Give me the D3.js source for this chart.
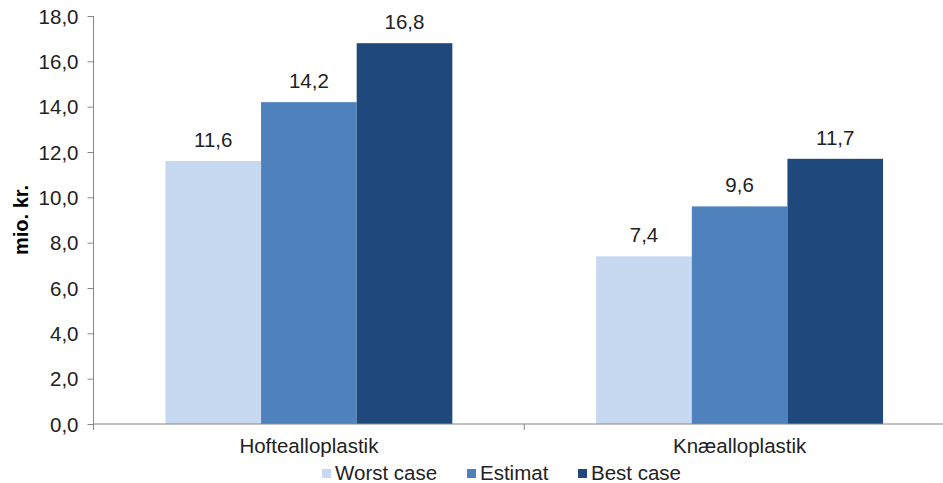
<!DOCTYPE html>
<html>
<head>
<meta charset="utf-8">
<script src="https://cdn.jsdelivr.net/npm/d3@7/dist/d3.min.js"></script>
<style>
  html, body { margin: 0; padding: 0; background: #fff; }
  svg { display: block; font-family: "Liberation Sans", Arial, sans-serif; }
</style>
</head>
<body>
<svg id="chart" width="943" height="483"></svg>
<script>
// Hip and knee replacement savings, mio. kr., three scenarios
const categories = ["Hoftealloplastik", "Knæalloplastik"];
const seriesNames = ["Worst case", "Estimat", "Best case"];
const worstCase = [11.6, 7.4];
const estimat = [14.2, 9.6];
const bestCase = [16.8, 11.7];
const yTicks = [0, 2, 4, 6, 8, 10, 12, 14, 16, 18];
const yTitle = "mio. kr.";

const seriesValues = [worstCase, estimat, bestCase];
const colors = ["#C6D9F1", "#4F81BD", "#1F497D"];
const fmt = v => v.toFixed(1).replace(".", ",");
const FS = "20.5px";

const svg = d3.select("#chart");
const margin = { left: 93.5, right: -12, top: 16, bottom: 59 };
const W = 943, H = 483;

const x0 = d3.scaleBand()
  .domain(categories)
  .range([margin.left, W - margin.right])
  .paddingInner(0)
  .paddingOuter(0);

const groupWidth = x0.bandwidth() * 0.666;
const x1 = d3.scaleBand()
  .domain(seriesNames)
  .range([0, groupWidth]);

const y = d3.scaleLinear()
  .domain([0, 18])
  .range([H - margin.bottom, margin.top]);

// y axis
const yAxis = d3.axisLeft(y)
  .tickValues(yTicks)
  .tickSize(6)
  .tickPadding(9)
  .tickFormat(fmt);

const gy = svg.append("g")
  .attr("transform", `translate(${margin.left},0)`)
  .call(yAxis);
gy.select(".domain").attr("stroke", "#868686").attr("d", `M0,${y(18)}V${y(0) + 6}`);
gy.selectAll(".tick line").attr("stroke", "#868686");
gy.selectAll(".tick text").attr("fill", "#222").style("font-size", FS)
  .attr("dy", "0.35em");

// bars
const groups = svg.append("g").selectAll("g")
  .data(categories)
  .join("g")
  .attr("transform", d => `translate(${x0(d) + (x0.bandwidth() - groupWidth) / 2},0)`);

groups.selectAll("rect")
  .data((d, i) => seriesNames.map((s, j) => ({ s, v: seriesValues[j][i], j })))
  .join("rect")
  .attr("x", d => x1(d.s))
  .attr("width", x1.bandwidth())
  .attr("y", d => y(d.v))
  .attr("height", d => y(0) - y(d.v))
  .attr("fill", d => colors[d.j]);

groups.selectAll("text.val")
  .data((d, i) => seriesNames.map((s, j) => ({ s, v: seriesValues[j][i], j })))
  .join("text")
  .attr("class", "val")
  .attr("x", d => x1(d.s) + x1.bandwidth() / 2)
  .attr("y", d => y(d.v) - 14)
  .attr("text-anchor", "middle")
  .attr("fill", "#222")
  .style("font-size", FS)
  .text(d => fmt(d.v));

// x axis
const xAxis = d3.axisBottom(x0).tickSize(0).tickPadding(14);
const gx = svg.append("g")
  .attr("transform", `translate(0,${y(0)})`)
  .call(xAxis);
gx.select(".domain").attr("stroke", "#868686").attr("d", `M${margin.left},0H${W - margin.right}`);
gx.selectAll(".tick text").attr("fill", "#222").style("font-size", FS);
// category separators
gx.selectAll(".sep")
  .data(categories.slice(1))
  .join("line")
  .attr("class", "sep")
  .attr("x1", d => x0(d)).attr("x2", d => x0(d))
  .attr("y1", 0).attr("y2", 6)
  .attr("stroke", "#868686");
gx.append("line").attr("x1", margin.left).attr("x2", margin.left).attr("y1", 0).attr("y2", 6).attr("stroke", "#868686");

// y title
svg.append("text")
  .attr("transform", `translate(28,${(y(0) + y(18)) / 2}) rotate(-90)`)
  .attr("text-anchor", "middle")
  .style("font-size", "20px")
  .style("font-weight", "bold")
  .attr("fill", "#000")
  .text(yTitle);

// legend
const legendX = [322, 467, 578];
const legend = svg.append("g").attr("transform", "translate(0,480)");
const li = legend.selectAll("g").data(seriesNames).join("g")
  .attr("transform", (d, i) => `translate(${legendX[i]},0)`);
li.append("rect").attr("x", 0).attr("y", -11).attr("width", 9).attr("height", 9)
  .attr("fill", (d, i) => colors[i]);
li.append("text").attr("x", 13).attr("y", 0).attr("fill", "#222")
  .style("font-size", FS).text(d => d);
</script>
</body>
</html>
